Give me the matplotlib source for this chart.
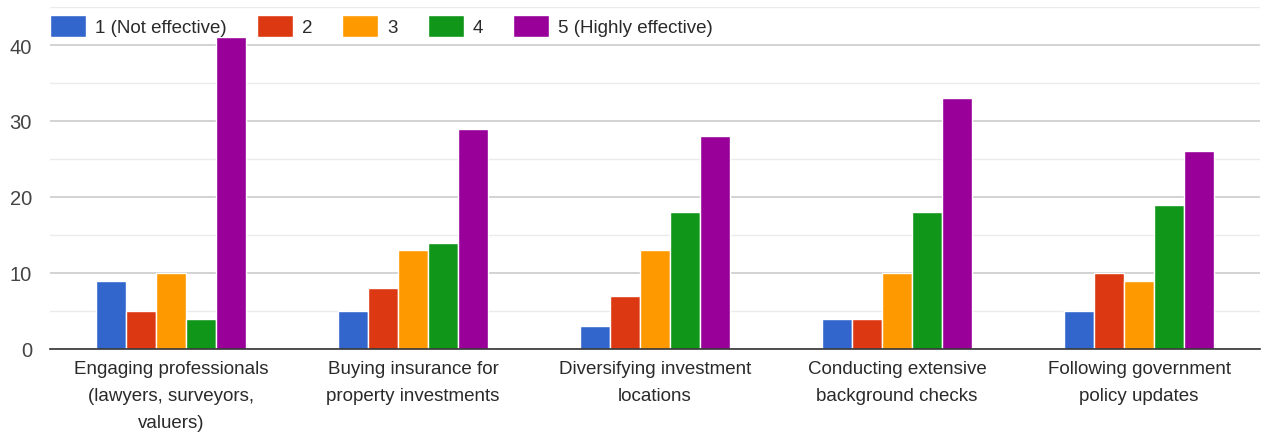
import matplotlib.pyplot as plt
import numpy as np

# survey responses: rated effectiveness of each risk-mitigation strategy
categories = [
    "Engaging professionals\n(lawyers, surveyors,\nvaluers)",
    "Buying insurance for\nproperty investments",
    "Diversifying investment\nlocations",
    "Conducting extensive\nbackground checks",
    "Following government\npolicy updates",
]
ratings = ["1 (Not effective)", "2", "3", "4", "5 (Highly effective)"]
counts_1 = [9, 5, 3, 4, 5]
counts_2 = [5, 8, 7, 4, 10]
counts_3 = [10, 13, 13, 10, 9]
counts_4 = [4, 14, 18, 18, 19]
counts_5 = [41, 29, 28, 33, 26]
colors = ["#3366cc", "#dc3912", "#ff9900", "#109618", "#990099"]

plt.rcParams["font.family"] = ["Liberation Sans", "DejaVu Sans"]

fig = plt.figure(figsize=(12.62, 4.39), dpi=100)
ax = fig.add_axes([50 / 1262, 1 - 350 / 439, 1210 / 1262, 342 / 439])

series = [counts_1, counts_2, counts_3, counts_4, counts_5]
x = np.arange(len(categories))
width = 0.124
for i, (vals, label, color) in enumerate(zip(series, ratings, colors)):
    offset = (i - 2) * width
    ax.bar(x + offset, vals, width, color=color, label=label,
           edgecolor="white", linewidth=1.0, zorder=3)

ax.set_xlim(-0.5, len(categories) - 0.5)
ax.set_ylim(0, 45)
ax.set_yticks([0, 10, 20, 30, 40])
ax.set_yticks([5, 15, 25, 35, 45], minor=True)
ax.grid(axis="y", which="major", color="#cccccc", linewidth=1.2, zorder=0)
ax.grid(axis="y", which="minor", color="#ebebeb", linewidth=1.0, zorder=0)

ax.set_xticks(x)
ax.set_xticklabels(categories, fontsize=13.5, color="#2a2a2a", linespacing=1.78)
ax.tick_params(axis="x", length=0, pad=8)
ax.tick_params(axis="y", which="both", length=0, labelsize=14.5, labelcolor="#444444", pad=13)

for side in ["top", "right", "left"]:
    ax.spines[side].set_visible(False)
ax.spines["bottom"].set_color("#333333")
ax.spines["bottom"].set_linewidth(1.2)
ax.spines["bottom"].set_zorder(4)

ax.legend(loc="center left", bbox_to_anchor=(0.0, 1 - 19 / 342), ncol=5, frameon=False,
          fontsize=13.5, handlelength=1.92, handleheight=1.4, handletextpad=0.48,
          columnspacing=1.6, borderaxespad=0.0, borderpad=0.0, labelcolor="#2a2a2a")

fig.savefig("out.png", dpi=100)
